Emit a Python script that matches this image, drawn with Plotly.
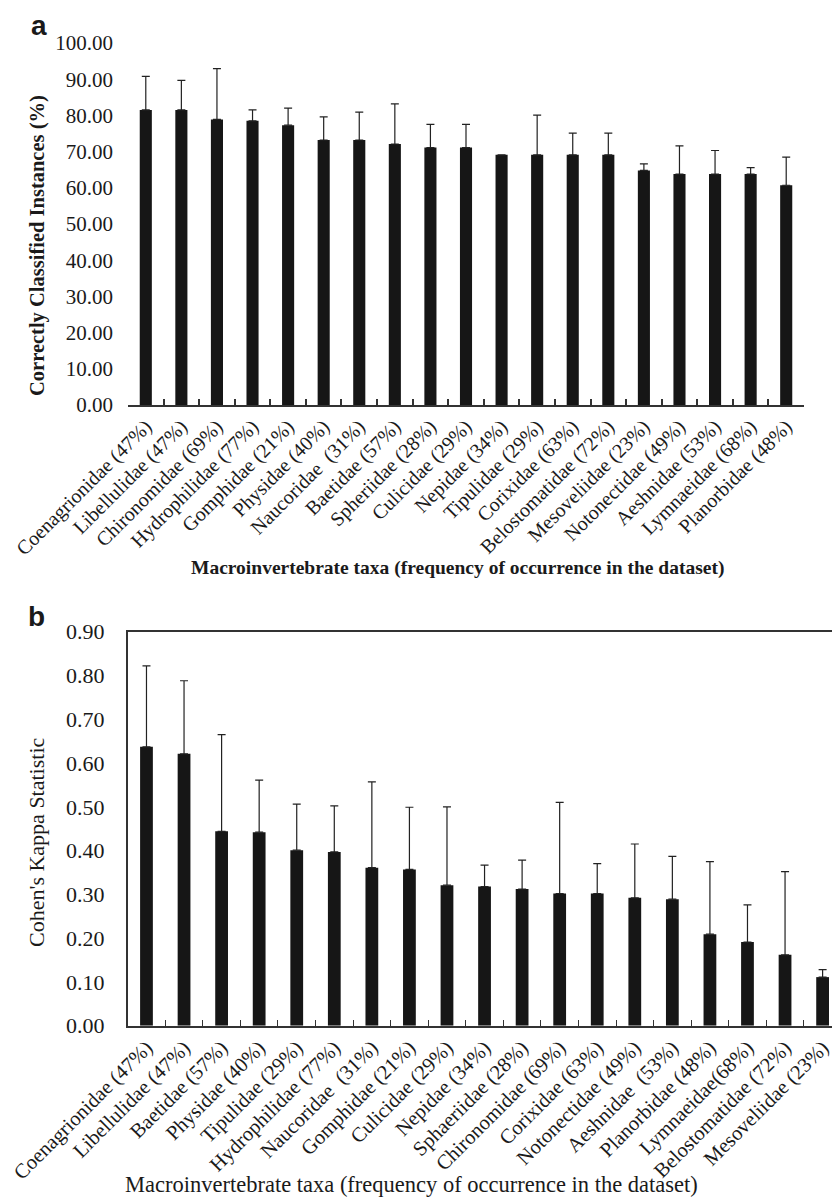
import plotly.graph_objects as go

W, H = 832, 1197

# ---------- Panel a data ----------
cats_a = ["Coenagrionidae (47%)", "Libellulidae (47%)", "Chironomidae (69%)",
          "Hydrophilidae (77%)", "Gomphidae (21%)", "Physidae (40%)",
          "Naucoridae\u00a0 (31%)", "Baetidae (57%)", "Spheriidae (28%)",
          "Culicidae (29%)", "Nepidae (34%)", "Tipulidae (29%)",
          "Corixidae (63%)", "Belostomatidae (72%)", "Mesoveliidae (23%)",
          "Notonectidae (49%)", "Aeshnidae (53%)", "Lymnaeidae (68%)",
          "Planorbidae (48%)"]
cci_a = [81.5, 81.5, 78.9, 78.5, 77.3, 73.2, 73.2, 72.1, 71.1, 71.1,
         69.1, 69.1, 69.1, 69.1, 64.8, 63.8, 63.8, 63.8, 60.7]
err_a = [9.3, 8.2, 14.0, 3.0, 4.7, 6.4, 7.7, 11.1, 6.4, 6.4,
         0.0, 11.0, 6.0, 6.0, 1.8, 7.8, 6.5, 1.8, 7.8]
yticks_a = [0, 10, 20, 30, 40, 50, 60, 70, 80, 90, 100]

# ---------- Panel b data ----------
cats_b = ["Coenagrionidae (47%)", "Libellulidae (47%)", "Baetidae (57%)",
          "Physidae (40%)", "Tipulidae (29%)", "Hydrophilidae (77%)",
          "Naucoridae\u00a0 (31%)", "Gomphidae (21%)", "Culicidae (29%)",
          "Nepidae (34%)", "Sphaeriidae (28%)", "Chironomidae (69%)",
          "Corixidae (63%)", "Notonectidae (49%)", "Aeshnidae\u00a0 (53%)",
          "Planorbidae (48%)", "Lymnaeidae(68%)", "Belostomatidae (72%)",
          "Mesoveliidae (23%)"]
kappa_b = [0.637, 0.621, 0.444, 0.442, 0.401, 0.397, 0.361, 0.357, 0.321,
           0.318, 0.312, 0.302, 0.302, 0.292, 0.289, 0.209, 0.191, 0.162, 0.111]
err_b = [0.185, 0.167, 0.221, 0.119, 0.105, 0.105, 0.196, 0.142, 0.179,
         0.049, 0.066, 0.208, 0.068, 0.123, 0.098, 0.166, 0.085, 0.190, 0.017]
yticks_b = [0.0, 0.1, 0.2, 0.3, 0.4, 0.5, 0.6, 0.7, 0.8, 0.9]

BAR = "#161616"
LINE = "#333333"
SERIF = "Liberation Serif, Times New Roman, serif"
SANS = "Liberation Sans, Arial, sans-serif"

def px(x):
    return x / W

def py(y):
    return 1 - y / H

fig = go.Figure()

fig.add_trace(go.Bar(
    x=cats_a, y=cci_a, marker=dict(color=BAR, line=dict(width=0)),
    error_y=dict(type="data", symmetric=False, array=err_a,
                 arrayminus=[0] * len(err_a), color="#222222",
                 thickness=1.2, width=4),
    xaxis="x", yaxis="y", showlegend=False))

fig.add_trace(go.Bar(
    x=cats_b, y=kappa_b, marker=dict(color=BAR, line=dict(width=0)),
    error_y=dict(type="data", symmetric=False, array=err_b,
                 arrayminus=[0] * len(err_b), color="#222222",
                 thickness=1.2, width=4),
    xaxis="x2", yaxis="y2", showlegend=False))

fig.update_layout(
    width=W, height=H,
    margin=dict(l=0, r=0, t=0, b=0),
    paper_bgcolor="white", plot_bgcolor="white",
    bargap=0.66,
    font=dict(family=SERIF, color="#1a1a1a"),
    xaxis=dict(domain=[px(128), px(804)], anchor="y", type="category",
               range=[-0.5, 18.5], showline=True, linecolor=LINE, linewidth=2,
               ticks="inside", tickson="boundaries", ticklen=6,
               tickcolor=LINE, tickwidth=1.5, tickangle=-45,
               tickfont=dict(family=SERIF, size=20, color="#1a1a1a"),
               showgrid=False, automargin=False),
    yaxis=dict(domain=[py(405), py(43)], anchor="x", range=[0, 100],
               tickvals=yticks_a, tickformat=".2f", showline=False,
               ticks="", showgrid=False, zeroline=False,
               ticklabelstandoff=14,
               tickfont=dict(family=SERIF, size=21, color="#1a1a1a"),
               automargin=False),
    xaxis2=dict(domain=[px(127.7), 1.0], anchor="y2", type="category",
                range=[-0.5, 18.25], showline=True, mirror=True,
                linecolor=LINE, linewidth=1.5,
                ticks="inside", tickson="boundaries", ticklen=6,
                tickcolor=LINE, tickwidth=1.2, tickangle=-45,
                tickfont=dict(family=SERIF, size=20.5, color="#1a1a1a"),
                showgrid=False, automargin=False),
    yaxis2=dict(domain=[py(1025.7), py(631.7)], anchor="x2", range=[0, 0.9],
                tickvals=yticks_b, tickformat=".2f", showline=True,
                linecolor=LINE, linewidth=1.5, mirror=False,
                ticks="", showgrid=False, zeroline=False,
                ticklabelstandoff=17,
                tickfont=dict(family=SERIF, size=22, color="#1a1a1a"),
                automargin=False),
)

ann = [
    dict(text="<b>a</b>", x=px(39), y=py(25), font=dict(family=SANS, size=28)),
    dict(text="<b>b</b>", x=px(36), y=py(616), font=dict(family=SANS, size=28)),
    dict(text="<b>Correctly Classified Instances (%)</b>", x=px(37), y=py(246),
         textangle=-90, font=dict(family=SERIF, size=20.5)),
    dict(text="<b>Macroinvertebrate taxa (frequency of occurrence in the dataset)</b>",
         x=px(457), y=py(568), font=dict(family=SERIF, size=19.5)),
    dict(text="Cohen's Kappa Statistic", x=px(36), y=py(842), textangle=-90,
         font=dict(family=SERIF, size=22)),
    dict(text="Macroinvertebrate taxa (frequency of occurrence in the dataset)",
         x=px(411), y=py(1184), font=dict(family=SERIF, size=22.5)),
]
for a in ann:
    a.update(xref="paper", yref="paper", showarrow=False,
             xanchor="center", yanchor="middle")
    a["font"].setdefault("color", "#1a1a1a")
fig.update_layout(annotations=ann)

fig.write_html("out.html",
               config={"displayModeBar": False},
               post_script="document.body.style.margin='0';"
                           "document.body.style.overflow='hidden';")
